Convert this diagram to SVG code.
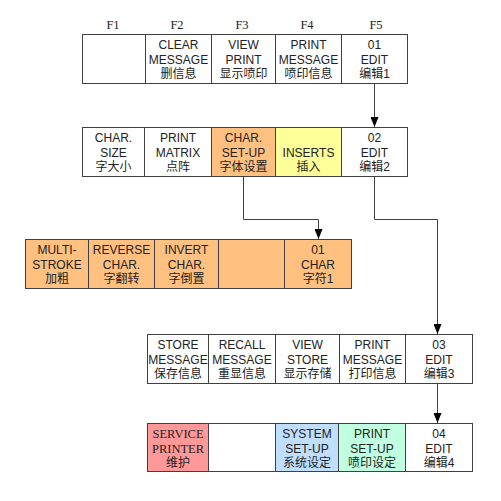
<svg xmlns="http://www.w3.org/2000/svg" width="501" height="501" viewBox="0 0 501 501">
<style>
rect{stroke:#404040;stroke-width:1}
.w{fill:#fff}.o{fill:#FFC080}.y{fill:#FFFF99}.p{fill:#FF9999}.b{fill:#C0DFFF}.g{fill:#C0FFE0}
text{font-family:"Liberation Sans",Arial,"Noto Sans CJK SC",sans-serif;font-size:12px;fill:#222;text-anchor:middle}
.s{font-family:"Liberation Serif","Times New Roman","Noto Sans CJK SC",serif;font-size:12.5px}
.c{stroke:#404040;stroke-width:1;fill:none}
</style>
<defs>
<marker id="ah" markerWidth="10" markerHeight="8" refX="10" refY="4" orient="auto" markerUnits="userSpaceOnUse" viewBox="0 0 10 8"><path d="M0,0 L10,4 L0,8 Z" fill="#000"/></marker>
</defs>
<g id="fkeys">
<text class="s" x="113" y="29">F1</text>
<text class="s" x="177" y="29">F2</text>
<text class="s" x="242" y="29">F3</text>
<text class="s" x="307" y="29">F4</text>
<text class="s" x="376" y="29">F5</text>
</g>
<g id="connectors">
<path class="c" d="M374.5,84 V127" marker-end="url(#ah)"/>
<path class="c" d="M243.5,176 V219.5 H318.5 V239" marker-end="url(#ah)"/>
<path class="c" d="M374.5,176 V219.5 H437.5 V334" marker-end="url(#ah)"/>
<path class="c" d="M437.5,384 V423" marker-end="url(#ah)"/>
</g>
<g id="row1">
<g id="r1c1"><rect class="w" x="82.5" y="34.5" width="63" height="49"/></g>
<g id="r1c2"><rect class="w" x="145.5" y="34.5" width="66" height="49"/><text x="178.5" y="49">CLEAR</text><text x="178.5" y="64">MESSAGE</text><text x="178.5" y="78">删信息</text></g>
<g id="r1c3"><rect class="w" x="211.5" y="34.5" width="64" height="49"/><text x="243.5" y="49">VIEW</text><text x="243.5" y="64">PRINT</text><text x="243.5" y="78">显示喷印</text></g>
<g id="r1c4"><rect class="w" x="275.5" y="34.5" width="66" height="49"/><text x="308.5" y="49">PRINT</text><text x="308.5" y="64">MESSAGE</text><text x="308.5" y="78">喷印信息</text></g>
<g id="r1c5"><rect class="w" x="341.5" y="34.5" width="66" height="49"/><text x="374.5" y="49">01</text><text x="374.5" y="64">EDIT</text><text x="374.5" y="78">编辑1</text></g>
</g>
<g id="row2">
<g id="r2c1"><rect class="w" x="82.5" y="127.5" width="62" height="49"/><text x="113.5" y="142">CHAR.</text><text x="113.5" y="157">SIZE</text><text x="113.5" y="171">字大小</text></g>
<g id="r2c2"><rect class="w" x="144.5" y="127.5" width="67" height="49"/><text x="178" y="142">PRINT</text><text x="178" y="157">MATRIX</text><text x="178" y="171">点阵</text></g>
<g id="r2c3"><rect class="o" x="211.5" y="127.5" width="64" height="49"/><text x="243.5" y="142">CHAR.</text><text x="243.5" y="157">SET-UP</text><text x="243.5" y="171">字体设置</text></g>
<g id="r2c4"><rect class="y" x="275.5" y="127.5" width="66" height="49"/><text x="308.5" y="157">INSERTS</text><text x="308.5" y="171">插入</text></g>
<g id="r2c5"><rect class="w" x="341.5" y="127.5" width="66" height="49"/><text x="374.5" y="142">02</text><text x="374.5" y="157">EDIT</text><text x="374.5" y="171">编辑2</text></g>
</g>
<g id="row3">
<g id="r3c1"><rect class="o" x="25.5" y="239.5" width="63" height="49"/><text x="57" y="254">MULTI-</text><text x="57" y="269">STROKE</text><text x="57" y="283">加粗</text></g>
<g id="r3c2"><rect class="o" x="88.5" y="239.5" width="66" height="49"/><text x="121.5" y="254">REVERSE</text><text x="121.5" y="269">CHAR.</text><text x="121.5" y="283">字翻转</text></g>
<g id="r3c3"><rect class="o" x="154.5" y="239.5" width="64" height="49"/><text x="186.5" y="254">INVERT</text><text x="186.5" y="269">CHAR.</text><text x="186.5" y="283">字倒置</text></g>
<g id="r3c4"><rect class="o" x="218.5" y="239.5" width="66" height="49"/></g>
<g id="r3c5"><rect class="o" x="284.5" y="239.5" width="67" height="49"/><text x="318" y="254">01</text><text x="318" y="269">CHAR</text><text x="318" y="283">字符1</text></g>
</g>
<g id="row4">
<g id="r4c1"><rect class="w" x="147.5" y="334.5" width="61" height="49"/><text x="178" y="349">STORE</text><text x="178" y="364">MESSAGE</text><text x="178" y="378">保存信息</text></g>
<g id="r4c2"><rect class="w" x="208.5" y="334.5" width="67" height="49"/><text x="242" y="349">RECALL</text><text x="242" y="364">MESSAGE</text><text x="242" y="378">重显信息</text></g>
<g id="r4c3"><rect class="w" x="275.5" y="334.5" width="64" height="49"/><text x="307.5" y="349">VIEW</text><text x="307.5" y="364">STORE</text><text x="307.5" y="378">显示存储</text></g>
<g id="r4c4"><rect class="w" x="339.5" y="334.5" width="66" height="49"/><text x="372.5" y="349">PRINT</text><text x="372.5" y="364">MESSAGE</text><text x="372.5" y="378">打印信息</text></g>
<g id="r4c5"><rect class="w" x="405.5" y="334.5" width="67" height="49"/><text x="439" y="349">03</text><text x="439" y="364">EDIT</text><text x="439" y="378">编辑3</text></g>
</g>
<g id="row5">
<g id="r5c1"><rect class="p" x="147.5" y="423.5" width="61" height="48"/><text class="s" x="178" y="438">SERVICE</text><text class="s" x="178" y="453">PRINTER</text><text x="178" y="467">维护</text></g>
<g id="r5c2"><rect class="w" x="208.5" y="423.5" width="67" height="48"/></g>
<g id="r5c3"><rect class="b" x="275.5" y="423.5" width="63" height="48"/><text x="307" y="438">SYSTEM</text><text x="307" y="453">SET-UP</text><text x="307" y="467">系统设定</text></g>
<g id="r5c4"><rect class="g" x="338.5" y="423.5" width="67" height="48"/><text x="372" y="438">PRINT</text><text x="372" y="453">SET-UP</text><text x="372" y="467">喷印设定</text></g>
<g id="r5c5"><rect class="w" x="405.5" y="423.5" width="67" height="48"/><text x="439" y="438">04</text><text x="439" y="453">EDIT</text><text x="439" y="467">编辑4</text></g>
</g>
</svg>
